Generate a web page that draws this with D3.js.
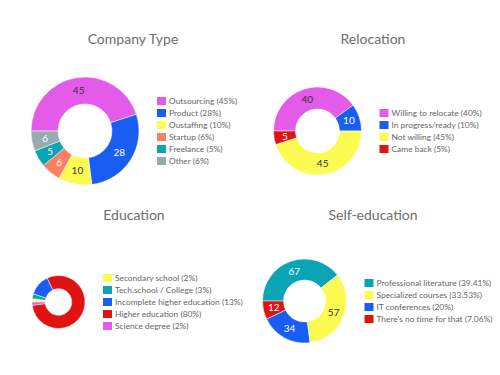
<!DOCTYPE html>
<html>
<head>
<meta charset="utf-8">
<script src="https://cdn.jsdelivr.net/npm/d3@7"></script>
<style>
  body { margin: 0; background: #fff; }
  text { font-family: Lato, "Open Sans", sans-serif; }
</style>
</head>
<body>
<div id="chart"></div>
<script>
// data
const companyLabels = ["Outsourcing", "Product", "Oustaffing", "Startup", "Freelance", "Other"];
const companyValues = [45, 28, 10, 6, 5, 6];

const relocationLabels = ["Willing to relocate", "In progress/ready", "Not willing", "Came back"];
const relocationValues = [40, 10, 45, 5];

const educationLabels = ["Secondary school", "Tech.school / College", "Incomplete higher education", "Higher education", "Science degree"];
const educationValues = [2, 3, 13, 80, 2];

const selfEduLabels = ["Professional literature", "Specialized courses", "IT conferences", "There's no time for that"];
const selfEduValues = [67, 57, 34, 12];

const colors = {
    pink: "#e35be8", blue: "#1a5df3", yellow: "#fbfb52", salmon: "#fa8063",
    teal: "#0ba3b6", gray: "#97abaf", red: "#e01212"
};
const darkText = ["pink", "yellow"];

const charts = [
    {title: "Company Type", labels: companyLabels, values: companyValues,
     colors: ["pink", "blue", "yellow", "salmon", "teal", "gray"],
     cx: 85, cy: 131, r: 54, tx: 133, ty: 44, showValues: true},
    {title: "Relocation", labels: relocationLabels, values: relocationValues,
     colors: ["pink", "blue", "yellow", "red"],
     cx: 317.5, cy: 131, r: 44, tx: 373, ty: 44, showValues: true},
    {title: "Education", labels: educationLabels, values: educationValues,
     colors: ["yellow", "teal", "blue", "red", "pink"],
     cx: 58.5, cy: 302, r: 26.5, tx: 134, ty: 220, showValues: false},
    {title: "Self-education", labels: selfEduLabels, values: selfEduValues,
     colors: ["teal", "yellow", "blue", "red"],
     cx: 304.5, cy: 301, r: 42, tx: 373, ty: 220, showValues: true}
];

const W = 500, H = 375;
const svg = d3.select("#chart").append("svg")
    .attr("width", W)
    .attr("height", H);

svg.append("rect").attr("width", W).attr("height", H).attr("fill", "#fff");

function pctText(v, total) {
    const p = Math.round(v / total * 10000) / 100;
    return String(p) + "%";
}

charts.forEach(function (c) {
    const total = d3.sum(c.values);
    const data = c.values.map((v, i) => ({label: c.labels[i], value: v, color: c.colors[i]}));

    // title
    svg.append("text")
        .attr("x", c.tx)
        .attr("y", c.ty)
        .attr("text-anchor", "middle")
        .attr("font-size", 14)
        .attr("fill", "#6e6e6e")
        .text(c.title);

    // donut, starting at 9 o'clock and going clockwise
    const pie = d3.pie()
        .value(d => d.value)
        .sort(null)
        .startAngle(-Math.PI / 2)
        .endAngle(Math.PI * 1.5);
    const arc = d3.arc()
        .innerRadius(c.r * 0.5)
        .outerRadius(c.r);

    const g = svg.append("g")
        .attr("transform", `translate(${c.cx}, ${c.cy})`);

    const arcs = pie(data);
    g.selectAll("path")
        .data(arcs)
        .join("path")
        .attr("d", arc)
        .attr("fill", d => colors[d.data.color])
        .attr("stroke", "#fff")
        .attr("stroke-width", 0.5);

    if (c.showValues) {
        g.selectAll("text.val")
            .data(arcs)
            .join("text")
            .attr("class", "val")
            .attr("transform", d => `translate(${arc.centroid(d)})`)
            .attr("text-anchor", "middle")
            .attr("dy", "0.35em")
            .attr("font-size", 10)
            .attr("fill", d => darkText.includes(d.data.color) ? "#333" : "#fff")
            .text(d => d.data.value);
    }

    // legend
    const rowH = 12;
    const lx = c.cx + c.r + 18;
    const ly0 = c.cy - (data.length - 1) * rowH / 2;
    const lg = svg.append("g");
    const rows = lg.selectAll("g")
        .data(data)
        .join("g")
        .attr("transform", (d, i) => `translate(${lx}, ${ly0 + i * rowH})`);
    rows.append("rect")
        .attr("x", 0)
        .attr("y", -4)
        .attr("width", 9)
        .attr("height", 8)
        .attr("fill", d => colors[d.color]);
    rows.append("text")
        .attr("x", 12)
        .attr("y", 0)
        .attr("dy", "0.35em")
        .attr("font-size", 8.4)
        .attr("fill", "#666")
        .text(d => `${d.label} (${pctText(d.value, total)})`);
});
</script>
</body>
</html>
